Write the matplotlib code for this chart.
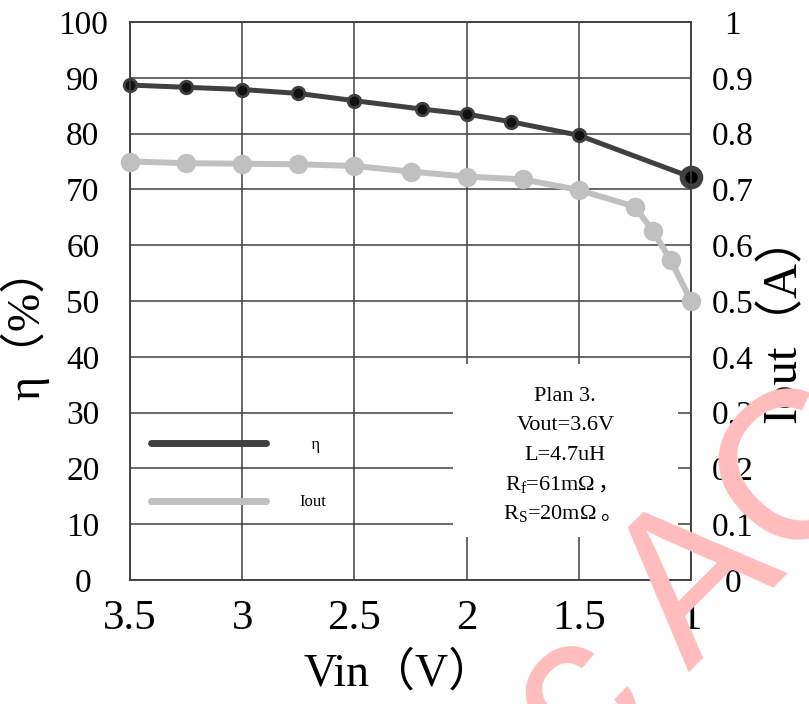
import matplotlib
matplotlib.use("Agg")
import matplotlib.pyplot as plt
from matplotlib.lines import Line2D
from matplotlib.patches import Rectangle

# values
vin_eta = [3.5, 3.25, 3.0, 2.75, 2.5, 2.2, 2.0, 1.8, 1.5, 1.0]
eta = [88.7, 88.3, 87.9, 87.2, 85.9, 84.4, 83.5, 82.1, 79.7, 72.2]
vin_iout = [3.5, 3.25, 3.0, 2.75, 2.5, 2.25, 2.0, 1.75, 1.5, 1.25, 1.17, 1.09, 1.0]
iout = [0.750, 0.747, 0.746, 0.745, 0.742, 0.732, 0.723, 0.718, 0.699, 0.669, 0.625, 0.573, 0.500]

x_ticks = [3.5, 3.0, 2.5, 2.0, 1.5, 1.0]
x_labels = ["3.5", "3", "2.5", "2", "1.5", "1"]
eta_ticks = list(range(0, 101, 10))
iout_ticks = [i / 10 for i in range(11)]
iout_labels = ["0", "0.1", "0.2", "0.3", "0.4", "0.5", "0.6", "0.7", "0.8", "0.9", "1"]

# note lines; the CJK punctuation goes in a separate text (mathtext has no fallback)
note_lines = ["Plan 3.", "Vout=3.6V", "L=4.7uH",
              "$\\mathrm{R_f}$=61mΩ", "$\\mathrm{R_S}$=20mΩ"]
note_tails = ["", "", "", "，", "。"]

SERIF = ["Liberation Serif", "Noto Sans CJK SC"]
plt.rcParams["font.family"] = SERIF
plt.rcParams["mathtext.fontset"] = "custom"
plt.rcParams["mathtext.rm"] = "Liberation Serif"

GRID = "#404040"
DARK = "#404040"
LIGHT = "#c0c0c0"

fig = plt.figure(figsize=(8.09, 7.04), dpi=100)
ax = fig.add_axes([130 / 809, 1 - 580 / 704, 561 / 809, 558 / 704])
ax2 = ax.twinx()

ax.set_xlim(3.5, 1.0)
ax.set_ylim(0, 100)
ax2.set_ylim(0, 1)

ax.set_xticks(x_ticks)
ax.set_xticklabels(x_labels, fontsize=31)
ax.set_yticks(eta_ticks)
ax.set_yticklabels([str(v) for v in eta_ticks], fontsize=24, ha="center")
ax2.set_yticks(iout_ticks)
ax2.set_yticklabels(iout_labels, fontsize=24, ha="center")

ax.tick_params(axis="x", length=0, pad=14)
ax.tick_params(axis="y", length=0, pad=34)
ax2.tick_params(axis="y", length=0, pad=30)

ax.grid(True, color=GRID, lw=1.1)
for a in (ax, ax2):
    for s in a.spines.values():
        s.set_color(GRID)
        s.set_linewidth(1.1)

ax.set_xlabel("Vin（V）", fontsize=33, labelpad=10)
ax.xaxis.label.set_x(0.48)
ax.set_ylabel("η（%）", fontsize=33, labelpad=6)
ax.yaxis.label.set_y(0.46)
ax2.set_ylabel("Iout（A）", fontsize=35, labelpad=4)
ax2.yaxis.label.set_y(0.47)

# efficiency curve
ax.plot(vin_eta, eta, color=DARK, lw=3.6, marker="o", ms=9,
        mfc="#111111", mec=DARK, mew=2, zorder=3, clip_on=False)
ax.plot(vin_eta[-1], eta[-1], "o", ms=13, mfc="black", mec=DARK, mew=4,
        zorder=4, clip_on=False)

# output current curve
ax2.plot(vin_iout, iout, color=LIGHT, lw=4.3, marker="o", ms=13,
         mfc=LIGHT, mec=LIGHT, zorder=3, clip_on=False)

# white note box over the grid
ax2.add_patch(Rectangle((1.06, 0.077), 1.0, 0.31, facecolor="white",
                        edgecolor="none", zorder=2))
for i, (line, tail) in enumerate(zip(note_lines, note_tails)):
    dx = -11 if tail else 0
    t = ax2.annotate(line, xy=(1.56, 0.224), xytext=(dx, (2 - i) * 21),
                     textcoords="offset points", ha="center", va="center",
                     fontsize=16, zorder=5)
    if tail:
        ax2.annotate(tail, xy=(1, 0.25), xycoords=t, xytext=(2, 0),
                     textcoords="offset points", ha="left", va="baseline",
                     fontsize=16, family=SERIF, zorder=5)

handles = [Line2D([], [], color=DARK, lw=5, solid_capstyle="round"),
           Line2D([], [], color=LIGHT, lw=5, solid_capstyle="round")]
leg = ax2.legend(handles, ["   η", "Iout"], loc="upper left",
                 bbox_to_anchor=(0.01, 0.283), frameon=False, fontsize=12,
                 handlelength=6.9, handletextpad=2.0, labelspacing=2.48)
leg.set_zorder(6)

# faint watermark in the lower right corner
fig.text(701 / 809, 1 - 584 / 704, "c AC", rotation=45, rotation_mode="anchor",
         ha="center", va="center", fontsize=152, color="#ffbcbc",
         family="Liberation Sans", zorder=10)

fig.savefig("out.png", dpi=100)
